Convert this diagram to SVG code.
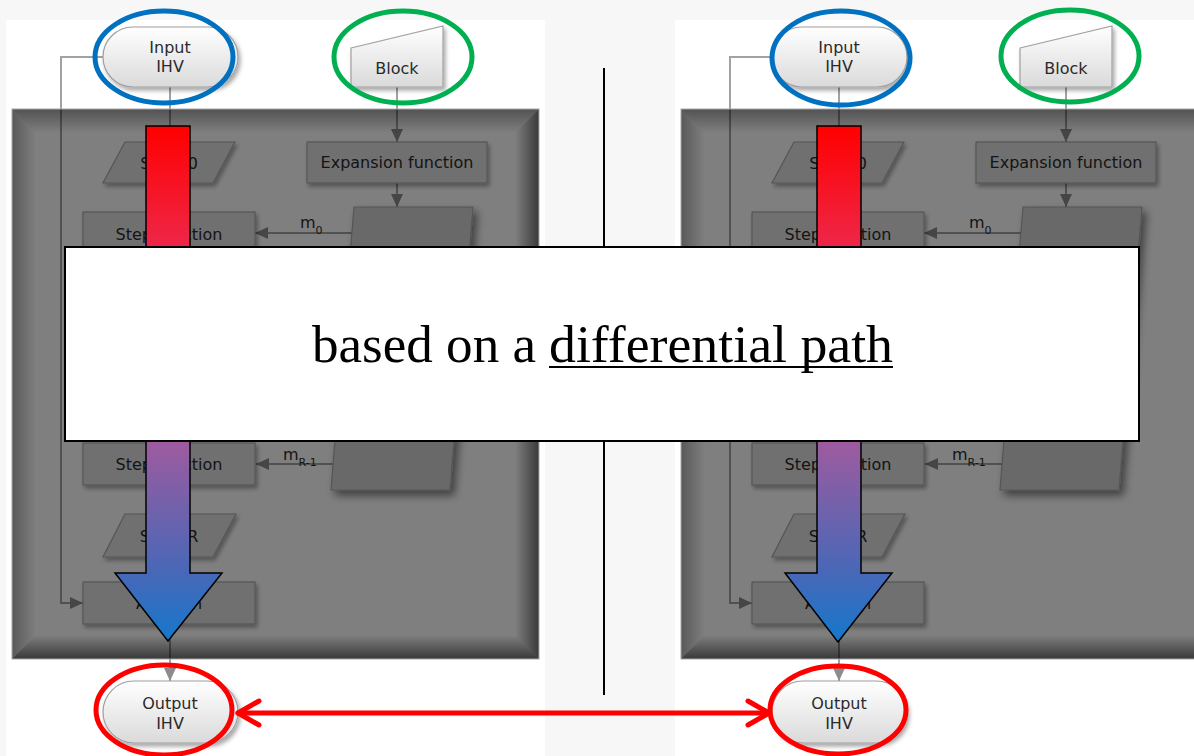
<svg xmlns="http://www.w3.org/2000/svg" width="1194" height="756" viewBox="0 0 1194 756">
<defs>
<style>
.t{font-family:"DejaVu Sans",Verdana,sans-serif;font-size:16px;fill:#2a2a2a;text-anchor:middle}
.lbl{font-family:"DejaVu Sans",Verdana,sans-serif;font-size:16px;fill:#2a2a2a}
.conn path{fill:none;stroke:#a2a2a2;stroke-width:2}
.box{fill:#e0e0e0;stroke:#aaaaaa;stroke-width:1.2;filter:url(#sh)}
.msg{fill:#d2d2d2;stroke:#aaaaaa;stroke-width:1.2;filter:url(#sh2)}
.pill{fill:url(#gPill);stroke:#a0a0a0;stroke-width:1.2;filter:url(#sh)}
.ring{fill:none;stroke-width:5}
.big{stroke:#000;stroke-width:1.5;fill:url(#gArrow)}
</style>
<linearGradient id="gPill" x1="0" y1="0" x2="0" y2="1"><stop offset="0" stop-color="#ffffff"/><stop offset="1" stop-color="#dadada"/></linearGradient>
<linearGradient id="gArrow" gradientUnits="userSpaceOnUse" x1="0" y1="126" x2="0" y2="642">
<stop offset="0" stop-color="#ff0000"/><stop offset="0.22" stop-color="#ef2444"/><stop offset="0.62" stop-color="#9b5ba0"/><stop offset="0.87" stop-color="#4668b8"/><stop offset="1" stop-color="#1478cc"/></linearGradient>
<linearGradient id="bvT" x1="0" y1="0" x2="0" y2="1"><stop offset="0" stop-color="#000" stop-opacity="0.35"/><stop offset="1" stop-color="#000" stop-opacity="0"/></linearGradient>
<linearGradient id="bvL" x1="0" y1="0" x2="1" y2="0"><stop offset="0" stop-color="#000" stop-opacity="0.3"/><stop offset="1" stop-color="#000" stop-opacity="0"/></linearGradient>
<linearGradient id="bvR" x1="0" y1="0" x2="1" y2="0"><stop offset="0" stop-color="#000" stop-opacity="0"/><stop offset="1" stop-color="#000" stop-opacity="0.55"/></linearGradient>
<linearGradient id="bvB" x1="0" y1="0" x2="0" y2="1"><stop offset="0" stop-color="#000" stop-opacity="0"/><stop offset="1" stop-color="#000" stop-opacity="0.55"/></linearGradient>
<filter id="sh" x="-20%" y="-30%" width="150%" height="170%"><feDropShadow dx="2" dy="3" stdDeviation="2" flood-color="#000" flood-opacity="0.35"/></filter>
<filter id="sh2" x="-20%" y="-20%" width="150%" height="150%"><feDropShadow dx="4" dy="5" stdDeviation="4" flood-color="#000" flood-opacity="0.5"/></filter>
<marker id="ah" viewBox="0 0 13 12" refX="13" refY="6" markerWidth="13" markerHeight="12" markerUnits="userSpaceOnUse" orient="auto"><path d="M0,0 L13,6 L0,12 z" fill="#8c8c8c"/></marker>
</defs>

<rect x="0" y="0" width="1194" height="756" fill="#f7f7f7"/>

<!-- LEFT PANEL -->
<g id="panel-left">
<rect x="6" y="20" width="539" height="736" fill="#ffffff"/>
<g id="connectors-left" class="conn">
<path d="M170,87 V142" marker-end="url(#ah)"/>
<path d="M397,87 V142" marker-end="url(#ah)"/>
<path d="M397,183 V207" marker-end="url(#ah)"/>
<path d="M352,233 H255" marker-end="url(#ah)"/>
<path d="M333,464 H256" marker-end="url(#ah)"/>
<path d="M103,57 H61 V603 H83" marker-end="url(#ah)"/>
<path d="M170,624 V681" marker-end="url(#ah)"/>
</g>
<g id="input-ihv-left"><rect class="pill" x="103" y="27" width="135" height="60" rx="30"/><text class="t" x="170" y="53">Input</text><text class="t" x="170" y="72">IHV</text></g>
<g id="block-left"><polygon class="pill" points="351,48 443,26 443,87 351,87"/><text class="t" x="397" y="74">Block</text></g>
<g id="expansion-left"><rect class="box" x="307" y="142" width="180" height="41"/><text class="t" x="397" y="168">Expansion function</text></g>
<g id="message-left"><polygon class="msg" points="354,207 473,207 450,490 331,490"/></g>
<g id="state0-left"><polygon class="box" points="125,142 235,142 213,183 103,183"/><text class="t" x="169" y="169">State 0</text></g>
<g id="step1-left"><rect class="box" x="83" y="212" width="172" height="41"/><text class="t" x="169" y="240">Step function</text></g>
<g id="step2-left"><rect class="box" x="83" y="443" width="172" height="42"/><text class="t" x="169" y="470">Step function</text></g>
<g id="stateR-left"><polygon class="box" points="125,514 236,514 213,557 103,557"/><text class="t" x="169" y="542">State R</text></g>
<g id="addition-left"><rect class="box" x="83" y="582" width="172" height="42"/><text class="t" x="169" y="609">Addition</text></g>
<g id="output-ihv-left"><rect class="pill" x="103" y="681" width="135" height="62" rx="31"/><text class="t" x="170" y="709">Output</text><text class="t" x="170" y="729">IHV</text></g>
<text class="lbl" x="300" y="228">m<tspan font-size="11" dy="6">0</tspan></text>
<text class="lbl" x="283" y="460">m<tspan font-size="11" dy="6">R-1</tspan></text>
<g id="frame-left">
<rect x="12" y="109" width="527" height="550" fill="#000" fill-opacity="0.5"/>
<polygon points="12,109 539,109 515,133 36,133" fill="url(#bvT)"/>
<polygon points="12,109 36,133 36,635 12,659" fill="url(#bvL)"/>
<polygon points="539,109 539,659 515,635 515,133" fill="url(#bvR)"/>
<polygon points="12,659 36,635 515,635 539,659" fill="url(#bvB)"/>
<rect x="12" y="109" width="527" height="550" fill="none" stroke="#a8a8a8" stroke-width="1"/>
</g>
</g>

<!-- RIGHT PANEL -->
<g id="panel-right" transform="translate(669,0)">
<rect x="6" y="20" width="600" height="736" fill="#ffffff"/>
<g id="connectors-right" class="conn">
<path d="M170,87 V142" marker-end="url(#ah)"/>
<path d="M397,87 V142" marker-end="url(#ah)"/>
<path d="M397,183 V207" marker-end="url(#ah)"/>
<path d="M352,233 H255" marker-end="url(#ah)"/>
<path d="M333,464 H256" marker-end="url(#ah)"/>
<path d="M103,57 H61 V603 H83" marker-end="url(#ah)"/>
<path d="M170,624 V681" marker-end="url(#ah)"/>
</g>
<g id="input-ihv-right"><rect class="pill" x="103" y="27" width="135" height="60" rx="30"/><text class="t" x="170" y="53">Input</text><text class="t" x="170" y="72">IHV</text></g>
<g id="block-right"><polygon class="pill" points="351,48 443,26 443,87 351,87"/><text class="t" x="397" y="74">Block</text></g>
<g id="expansion-right"><rect class="box" x="307" y="142" width="180" height="41"/><text class="t" x="397" y="168">Expansion function</text></g>
<g id="message-right"><polygon class="msg" points="354,207 473,207 450,490 331,490"/></g>
<g id="state0-right"><polygon class="box" points="125,142 235,142 213,183 103,183"/><text class="t" x="169" y="169">State 0</text></g>
<g id="step1-right"><rect class="box" x="83" y="212" width="172" height="41"/><text class="t" x="169" y="240">Step function</text></g>
<g id="step2-right"><rect class="box" x="83" y="443" width="172" height="42"/><text class="t" x="169" y="470">Step function</text></g>
<g id="stateR-right"><polygon class="box" points="125,514 236,514 213,557 103,557"/><text class="t" x="169" y="542">State R</text></g>
<g id="addition-right"><rect class="box" x="83" y="582" width="172" height="42"/><text class="t" x="169" y="609">Addition</text></g>
<g id="output-ihv-right"><rect class="pill" x="103" y="681" width="135" height="62" rx="31"/><text class="t" x="170" y="709">Output</text><text class="t" x="170" y="729">IHV</text></g>
<text class="lbl" x="300" y="228">m<tspan font-size="11" dy="6">0</tspan></text>
<text class="lbl" x="283" y="460">m<tspan font-size="11" dy="6">R-1</tspan></text>
<g id="frame-right">
<rect x="12" y="109" width="580" height="550" fill="#000" fill-opacity="0.5"/>
<polygon points="12,109 592,109 568,133 36,133" fill="url(#bvT)"/>
<polygon points="12,109 36,133 36,635 12,659" fill="url(#bvL)"/>
<polygon points="12,659 36,635 568,635 592,659" fill="url(#bvB)"/>
<rect x="12" y="109" width="580" height="550" fill="none" stroke="#a8a8a8" stroke-width="1"/>
</g>
</g>

<!-- divider -->
<line id="divider" x1="604" y1="68" x2="604" y2="695" stroke="#000" stroke-width="2"/>

<!-- big gradient arrows -->
<g id="big-arrow-left"><polygon class="big" points="146,126 190,126 190,573 222,573 168,641 115,573 146,573"/></g>
<g id="big-arrow-right"><polygon class="big" points="817,126 861,126 861,573 892,573 838,642 785,573 817,573"/></g>

<!-- caption box -->
<g id="caption">
<rect x="65" y="247" width="1074" height="194" fill="#ffffff" stroke="#000" stroke-width="2"/>
<text x="312" y="362" font-family="'Liberation Serif','Times New Roman',serif" font-size="53" fill="#000" textLength="224" lengthAdjust="spacingAndGlyphs">based on a</text>
<text x="549" y="362" font-family="'Liberation Serif','Times New Roman',serif" font-size="53" fill="#000" textLength="344" lengthAdjust="spacingAndGlyphs">differential path</text>
<line x1="549" y1="367" x2="893" y2="367" stroke="#000" stroke-width="2"/>
</g>

<!-- highlight rings -->
<g id="rings">
<ellipse class="ring" cx="164" cy="57" rx="69" ry="46" stroke="#0070c0"/>
<ellipse class="ring" cx="841" cy="58" rx="69" ry="47" stroke="#0070c0"/>
<ellipse class="ring" cx="403" cy="57" rx="69" ry="46" stroke="#00b050"/>
<ellipse class="ring" cx="1070" cy="56" rx="69" ry="46" stroke="#00b050"/>
<ellipse class="ring" cx="164" cy="710" rx="68" ry="45" stroke="#ff0000"/>
<ellipse class="ring" cx="838" cy="710" rx="68" ry="44" stroke="#ff0000"/>
</g>

<!-- red double arrow -->
<g id="compare-arrow" fill="none" stroke="#ff0000" stroke-width="5" stroke-linecap="round" stroke-linejoin="round">
<path d="M238,713 H769"/>
<path d="M259,701 L238,713 L259,725"/>
<path d="M748,701 L769,713 L748,725"/>
</g>
</svg>
